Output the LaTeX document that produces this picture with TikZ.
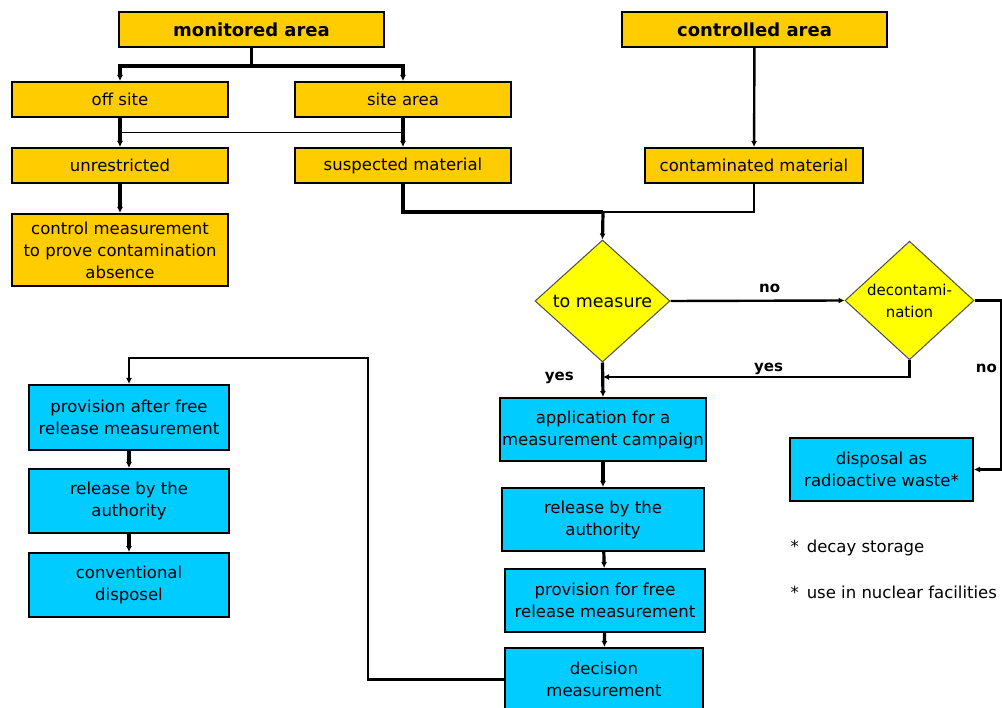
\documentclass[tikz,border=0pt]{standalone}
\usepackage{fontspec}
\setmainfont{DejaVu Sans}
\usetikzlibrary{arrows.meta,calc,shapes.geometric}
\definecolor{areaorange}{HTML}{FFCC00}
\definecolor{decyellow}{HTML}{FFFF00}
\definecolor{stepblue}{HTML}{00CCFF}

\tikzset{
	areabox/.style={draw,line width=2pt,fill=areaorange,minimum width=216pt,minimum height=35pt,inner sep=1pt,align=center,font=\fontsize{16.5}{22}\selectfont},
	headbox/.style={areabox,minimum width=265pt,font=\fontsize{18}{21}\selectfont\bfseries},
	stepbox/.style={draw,line width=2pt,fill=stepblue,minimum height=63pt,inner sep=1pt,align=center,font=\fontsize{16.5}{22}\selectfont},
	decision/.style={diamond,draw=black!70,line width=1pt,fill=decyellow,inner sep=0pt,align=center},
	thickline/.style={line width=3.2pt},
	midline/.style={line width=2.4pt},
	tip/.style={-{Latex[length=6pt,width=6pt]}},
	answer/.style={font=\fontsize{15}{17}\selectfont\bfseries}
}

\begin{document}
\begin{tikzpicture}[x=1pt,y=-1pt]
	\useasboundingbox (0,0) rectangle (1002,708);
	\begin{scope}
		% top level
		\draw (251.5,29.5) node[headbox](monitored) {monitored area};
		\draw (754.5,29.5) node[headbox](controlled) {controlled area};

		\draw (120,99.5) node[areabox](offsite) {off site};
		\draw (403,99.5) node[areabox](sitearea) {site area};

		\draw (120,165.5) node[areabox](unrestricted) {unrestricted};
		\draw (403,165.5) node[areabox](suspected) {suspected material};
		\draw (754,165.5) node[areabox,minimum width=218pt](contaminated) {contaminated material};

		\draw (120,250) node[areabox,minimum height=72pt](control)
					{control measurement\\to prove contamination\\absence};

		% decisions
		\draw (602.5,301) node[decision,minimum width=135pt,minimum height=122pt,font=\fontsize{17.5}{20}\selectfont](measure)
					{to measure};
		\draw (909.5,300.5) node[decision,minimum width=129pt,minimum height=115pt,font=\fontsize{15}{22}\selectfont](decont)
					{decontami-\\nation};

		% measurement chain
		\draw (603,429.5) node[stepbox,minimum width=206pt](application)
					{application for a\\measurement campaign};
		\draw (603,519.5) node[stepbox,minimum width=202pt](releaseright)
					{release by the\\authority};
		\draw (605,600.5) node[stepbox,minimum width=200pt](provfree)
					{provision for free\\release measurement};
		\draw (604,679.5) node[stepbox,minimum width=198pt](decisionmeas)
					{decision\\measurement};

		\draw (881.5,469.5) node[stepbox,minimum width=183pt](disposal)
					{disposal as\\radioactive waste*};

		% left chain
		\draw (129,417.5) node[stepbox,minimum width=200pt,minimum height=65pt](provafter)
					{provision after free\\release measurement};
		\draw (129,501) node[stepbox,minimum width=200pt,minimum height=64pt](releaseleft)
					{release by the\\authority};
		\draw (129,585) node[stepbox,minimum width=200pt,minimum height=64pt](conventional)
					{conventional\\disposel};

		% notes
		\draw (787,548) node[anchor=west,font=\fontsize{16.5}{20}\selectfont](notedecay) {*\hspace{8pt}decay storage};
		\draw (787,592) node[anchor=west,font=\fontsize{16.5}{20}\selectfont](notenuclear) {*\hspace{8pt}use in nuclear facilities};

		% connectors
		\coordinate (merge) at (603,212);
		\coordinate (yesjoin) at (603,377);
		\coordinate (loop) at (368,358);

		\draw [thickline,tip] (monitored.south) -- ++(0,18) -| (offsite.north);
		\draw [thickline,tip] (monitored.south) -- ++(0,18) -| (sitearea.north);
		\draw [thickline,tip] (offsite) -- (unrestricted);
		\draw [thickline,tip] (sitearea) -- (suspected);
		\draw [line width=1.6pt] ($(offsite.south)!0.5!(unrestricted.north)$) -- ($(sitearea.south)!0.5!(suspected.north)$);
		\draw [thickline,tip] (unrestricted) -- (control);
		\draw [midline,tip] (controlled) -- (contaminated);

		\draw [thickline] (suspected.south) |- (merge);
		\draw [midline] (contaminated.south) |- (merge);
		\draw [thickline,tip] (merge) -- (measure.north);

		\draw [midline,tip] (measure.east) -- (decont.west) node[pos=0.57,above=3pt,answer] {no};
		\draw [midline,tip] (decont.south) |- (yesjoin) node[pos=0.73,above=-2pt,answer] {yes};
		\draw [midline,tip] (decont.east) -- ++(27,0) |- (disposal.east) node[pos=0.2,left=0pt,answer] {no};
		\draw [thickline,tip] (measure.south) -- (application.north) node[pos=0.45,left=24pt,answer] {yes};

		\draw [thickline,tip] (application) -- (releaseright);
		\draw [thickline,tip] (releaseright) -- (provfree);
		\draw [thickline,tip] (provfree) -- (decisionmeas);

		\draw [midline,tip] (decisionmeas.west) -| (loop) -| (provafter.north);
		\draw [thickline,tip] (provafter) -- (releaseleft);
		\draw [thickline,tip] (releaseleft) -- (conventional);
	\end{scope}
\end{tikzpicture}
\end{document}
